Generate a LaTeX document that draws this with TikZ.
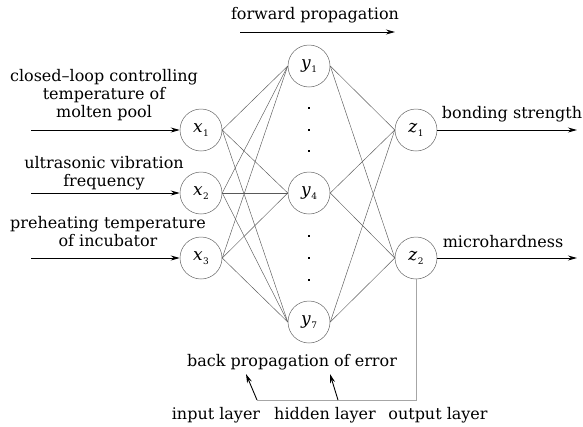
\documentclass[tikz,border=0pt]{standalone}
\usepackage{fontspec}
\setmainfont{DejaVu Serif}
\usetikzlibrary{arrows.meta}
\tikzset{
  neuron/.style={circle, draw=black!60, line width=0.5pt, minimum size=42pt, inner sep=0pt, font=\fontsize{17}{17}\selectfont},
  link/.style={draw=black!65, line width=0.45pt},
  signal/.style={draw=black, line width=0.9pt, -{Stealth[length=9pt,width=5pt]}},
  feedback/.style={draw=black!35, line width=0.9pt},
  lbl/.style={font=\fontsize{16}{18}\selectfont, align=center, inner sep=0pt},
  hdots/.style={rectangle, fill=black, inner sep=0pt, minimum size=2pt},
}
\newcommand{\var}[2]{\textit{#1}\kern0.5pt\raisebox{-0.5ex}{\fontsize{9}{9}\selectfont #2}}
\begin{document}
\begin{tikzpicture}[x=1pt, y=-1pt]
\useasboundingbox (0,0) rectangle (583,426);

% input layer
\node[neuron] (x1) at (201,130) {\var{x}{1}};
\node[neuron] (x2) at (201,193) {\var{x}{2}};
\node[neuron] (x3) at (201,258) {\var{x}{3}};
% hidden layer
\node[neuron] (y1) at (309,66)  {\var{y}{1}};
\node[neuron] (y4) at (309,193) {\var{y}{4}};
\node[neuron] (y7) at (309,322) {\var{y}{7}};
% output layer
\node[neuron] (z1) at (416,130) {\var{z}{1}};
\node[neuron] (z2) at (416,258) {\var{z}{2}};

% elided hidden neurons
\foreach \yy [count=\i] in {108,130,151,236,258,280}
  \node[hdots] (d\i) at (309,\yy) {};

% weights
\foreach \a in {x1,x2,x3}
  \foreach \b in {y1,y4,y7}
    \draw[link] (\a.east) -- (\b.west);
\foreach \a in {y1,y4,y7}
  \foreach \b in {z1,z2}
    \draw[link] (\a.east) -- (\b.west);

% inputs
\coordinate (i1) at (31,130);
\coordinate (i2) at (31,193);
\coordinate (i3) at (31,258);
\draw[signal] (i1) -- (x1.west);
\draw[signal] (i2) -- (x2.west);
\draw[signal] (i3) -- (x3.west);
\node[lbl] (t1) at (104,95) {closed–loop controlling\\temperature of\\molten pool};
\node[lbl] (t2) at (104,173) {ultrasonic vibration\\frequency};
\node[lbl] (t3) at (108,232) {preheating temperature\\of incubator};

% outputs
\coordinate (o1) at (577,130);
\coordinate (o2) at (577,258);
\draw[signal] (z1.east) -- (o1);
\draw[signal] (z2.east) -- (o2);
\node[lbl] (s1) at (512,114) {bonding strength};
\node[lbl] (s2) at (503,242) {microhardness};

% forward propagation
\node[lbl] (fw) at (315,15) {forward propagation};
\coordinate (f0) at (240,32);
\coordinate (f1) at (395,32);
\draw[signal] (f0) -- (f1);

% back propagation of error
\coordinate (b0) at (416,400);
\coordinate (b1) at (257,400);
\coordinate (b2) at (338,400);
\coordinate (h0) at (246,374);
\coordinate (h1) at (330,374);
\draw[feedback] (z2.south) -- (b0) -- (b1);
\draw[signal] (b1) -- (h0);
\draw[signal] (b2) -- (h1);
\node[lbl] (bp) at (292,362) {back propagation of error};

% layer names
\node[lbl] (ln1) at (216,415) {input layer};
\node[lbl] (ln2) at (325,415) {hidden layer};
\node[lbl] (ln3) at (438,415) {output layer};
\end{tikzpicture}
\end{document}
